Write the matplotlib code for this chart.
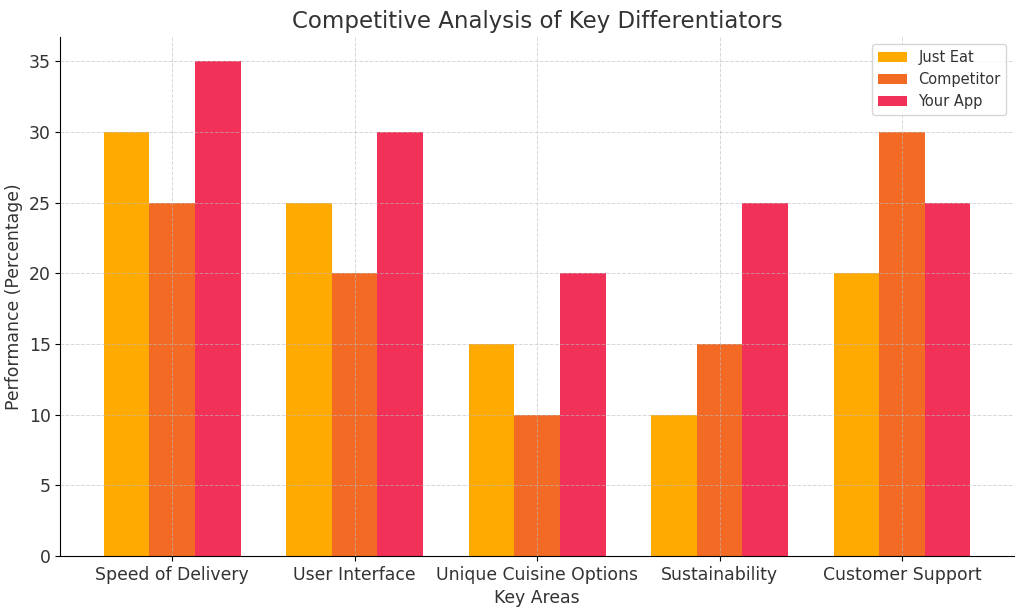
import matplotlib
matplotlib.use("Agg")
import matplotlib.pyplot as plt
import numpy as np

categories = ["Speed of Delivery", "User Interface", "Unique Cuisine Options", "Sustainability", "Customer Support"]
just_eat = [30, 25, 15, 10, 20]
competitor = [25, 20, 10, 15, 30]
your_app = [35, 30, 20, 25, 25]
series_names = ["Just Eat", "Competitor", "Your App"]
colors = ["#FFAA00", "#F26A24", "#F23158"]

fig, ax = plt.subplots(figsize=(10.24, 6.11), dpi=100)
x = np.arange(len(categories))
w = 0.25
for i, (vals, name, c) in enumerate(zip([just_eat, competitor, your_app], series_names, colors)):
    ax.bar(x + (i - 1) * w, vals, w, label=name, color=c, zorder=1)

ax.grid(True, linestyle="--", color="#bbbbbb", linewidth=0.7, alpha=0.6, zorder=2)
ax.set_axisbelow(False)
ax.set_xticks(x)
ax.set_xticklabels(categories, fontsize=12.4, color="#333333")
ax.tick_params(axis="y", labelsize=12.4, labelcolor="#333333")
ax.set_xlabel("Key Areas", fontsize=12.4, color="#333333")
ax.set_ylabel("Performance (Percentage)", fontsize=12.4, color="#333333")
ax.set_title("Competitive Analysis of Key Differentiators", fontsize=16.5, color="#333333")
ax.spines["top"].set_visible(False)
ax.spines["right"].set_visible(False)
leg = ax.legend(loc="upper right", fontsize=10.5)
for t in leg.get_texts():
    t.set_color("#333333")
fig.subplots_adjust(left=0.059, right=0.99, top=0.94, bottom=0.09)
fig.savefig("out.png", dpi=100)
